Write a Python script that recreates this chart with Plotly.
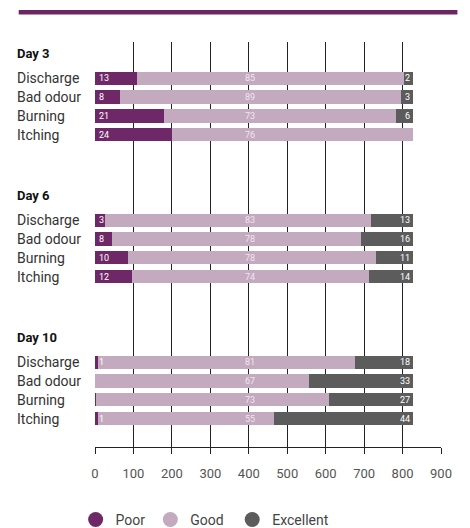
import plotly.graph_objects as go

days = ["Day 3", "Day 6", "Day 10"]
symptoms = ["Discharge", "Bad odour", "Burning", "Itching"]
series = ["Poor", "Good", "Excellent"]

# bar lengths (axis units), per day then symptom
poor_n = [110, 64, 180, 201, 27, 45, 87, 97, 9, 0, 2, 9]
good_n = [694, 733, 602, 625, 690, 646, 645, 615, 667, 556, 606, 456]
exc_n = [22, 29, 44, 0, 109, 135, 94, 114, 150, 270, 218, 361]

# percentage labels shown on the bars
poor_pct = ["13", "8", "21", "24", "3", "8", "10", "12", "1", "", "", "1"]
good_pct = ["85", "89", "73", "76", "83", "78", "78", "74", "81", "67", "73", "55"]
exc_pct = ["2", "3", "6", "", "13", "16", "11", "14", "18", "33", "27", "44"]

tick_vals = [0, 100, 200, 300, 400, 500, 600, 700, 800, 900]

colors = {"Poor": "#6f2867", "Good": "#c3aabe", "Excellent": "#5c5c5c"}
FONT = "Roboto"

GROUP_STEP = 7.57
ys = []
labels = []
for g, d in enumerate(days):
    for i, s in enumerate(symptoms):
        ys.append(g * GROUP_STEP + i)
        labels.append(s)

fig = go.Figure()
for name, vals in [("Poor", poor_n), ("Good", good_n), ("Excellent", exc_n)]:
    fig.add_trace(go.Bar(
        x=vals, y=ys, orientation="h", width=0.71,
        marker=dict(color=colors[name], line=dict(width=0)),
        showlegend=False, hoverinfo="skip", name=name,
    ))

# legend markers (circles)
legend_pad = {"Poor": "", "Good": "\u00a0", "Excellent": ""}
for name in series:
    fig.add_trace(go.Scatter(
        x=[None], y=[None], mode="markers", name=name + legend_pad[name],
        marker=dict(color=colors[name], size=15, symbol="circle"),
    ))

ann = []
lab_font = dict(family=FONT, size=9, color="white")
LX = -0.232
for k, y in enumerate(ys):
    if poor_pct[k]:
        ann.append(dict(x=0, y=y, xref="x", yref="y", text=poor_pct[k], showarrow=False,
                        xanchor="left", xshift=2, font=lab_font))
    if good_pct[k]:
        ann.append(dict(x=385, y=y, xref="x", yref="y", text=good_pct[k], showarrow=False,
                        xanchor="left", font=dict(family=FONT, size=9, color="#efe6ee")))
    if exc_pct[k]:
        ann.append(dict(x=poor_n[k] + good_n[k] + exc_n[k], y=y, xref="x", yref="y",
                        text=exc_pct[k], showarrow=False, xanchor="right", xshift=-1,
                        font=lab_font))
    ann.append(dict(x=LX, y=y, xref="paper", yref="y", text=labels[k], showarrow=False,
                    xanchor="left", font=dict(family=FONT, size=14, color="#333333")))
for g, d in enumerate(days):
    ann.append(dict(x=LX, y=g * GROUP_STEP - 1.33, xref="paper", yref="y",
                    text="<b>" + d + "</b>", showarrow=False, xanchor="left",
                    font=dict(family=FONT, size=13, color="#111111")))

fig.update_layout(
    width=462, height=520,
    margin=dict(l=86.5, r=28.5, t=34, b=81, autoexpand=False),
    paper_bgcolor="white", plot_bgcolor="white",
    barmode="stack", bargap=0,
    annotations=ann,
    shapes=[dict(type="rect", xref="paper", yref="paper",
                 x0=-0.2205, x1=1.0475, y0=1.068, y1=1.079,
                 fillcolor="#6c2763", line=dict(width=0))],
    showlegend=True,
    legend=dict(orientation="h", x=-0.056, y=-0.18, xanchor="left", yanchor="middle",
                traceorder="normal",
                font=dict(family=FONT, size=14, color="#444444"),
                bgcolor="rgba(0,0,0,0)"),
    font=dict(family=FONT),
)
fig.update_xaxes(
    range=[0, 900], tickvals=tick_vals, showgrid=True, gridcolor="#222222", gridwidth=1,
    zeroline=False, showline=True, linecolor="#222222", linewidth=1,
    ticks="outside", ticklen=6, tickcolor="#222222",
    tickfont=dict(family=FONT, size=13, color="#555555"), ticklabelstandoff=8,
    fixedrange=True,
)
fig.update_yaxes(
    range=[19.66, -1.94], showgrid=False, zeroline=False, showticklabels=False,
    showline=False, fixedrange=True,
)

fig.write_html("out.html")
